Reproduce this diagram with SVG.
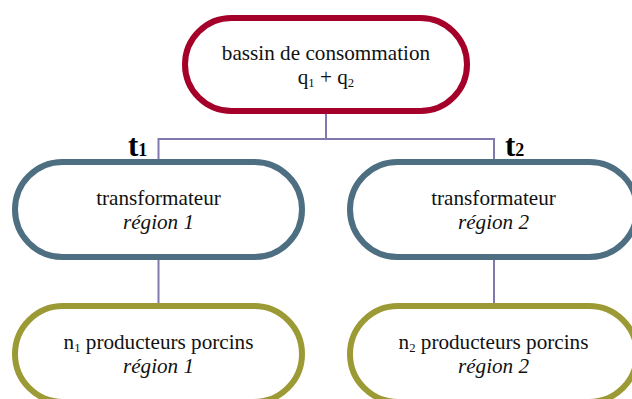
<svg xmlns="http://www.w3.org/2000/svg" width="632" height="399" viewBox="0 0 632 399">
  <style>
    .node { fill: #ffffff; stroke-width: 6; }
    .top { stroke: #A5002A; }
    .mid { stroke: #4E6E82; }
    .bot { stroke: #9C9A35; }
    .lbl { font-family: "Liberation Serif", "Times New Roman", serif; font-size: 20px; fill: #111111; text-anchor: middle; }
    .it { font-style: italic; }
    .sub { font-size: 12px; }
    .t { font-family: "Liberation Serif", "Times New Roman", serif; font-size: 31px; font-weight: bold; fill: #000000; }
    .tsub { font-size: 18px; }
    .link { fill: none; stroke: #7F79AE; stroke-width: 2; }
  </style>
  <rect width="632" height="399" fill="#ffffff"/>

  <g id="connectors">
    <path class="link" d="M326 110 V139 M158.5 139 H494 M158.5 138 V162 M494 138 V162"/>
    <path class="link" d="M158.5 258 V306"/>
    <path class="link" d="M494 258 V306"/>
  </g>

  <g id="node-bassin">
    <rect class="node top" x="185" y="18" width="282" height="93" rx="46.5" ry="46.5"/>
    <g transform="translate(326 0) scale(1.06 1)">
      <text class="lbl" x="0" y="60">bassin de consommation</text>
      <text class="lbl" x="0" y="84">q<tspan class="sub" dy="3">1</tspan><tspan dy="-3"> + q</tspan><tspan class="sub" dy="3">2</tspan></text>
    </g>
  </g>

  <g id="label-t1">
    <text class="t" x="128" y="156">t<tspan class="tsub">1</tspan></text>
  </g>
  <g id="label-t2">
    <text class="t" x="505" y="156">t<tspan class="tsub">2</tspan></text>
  </g>

  <g id="node-transformateur-1">
    <rect class="node mid" x="15" y="162" width="287" height="95" rx="47.5" ry="47.5"/>
    <g transform="translate(158.5 0) scale(1.06 1)">
      <text class="lbl" x="0" y="205">transformateur</text>
      <text class="lbl it" x="0" y="229">région 1</text>
    </g>
  </g>

  <g id="node-transformateur-2">
    <rect class="node mid" x="350" y="162" width="287" height="95" rx="47.5" ry="47.5"/>
    <g transform="translate(493.5 0) scale(1.06 1)">
      <text class="lbl" x="0" y="205">transformateur</text>
      <text class="lbl it" x="0" y="229">région 2</text>
    </g>
  </g>

  <g id="node-producteurs-1">
    <rect class="node bot" x="15" y="306" width="287" height="96" rx="48" ry="48"/>
    <g transform="translate(158.5 0) scale(1.06 1)">
      <text class="lbl" x="0" y="349">n<tspan class="sub" dy="3">1</tspan><tspan dy="-3"> producteurs porcins</tspan></text>
      <text class="lbl it" x="0" y="373">région 1</text>
    </g>
  </g>

  <g id="node-producteurs-2">
    <rect class="node bot" x="350" y="306" width="287" height="96" rx="48" ry="48"/>
    <g transform="translate(493.5 0) scale(1.06 1)">
      <text class="lbl" x="0" y="349">n<tspan class="sub" dy="3">2</tspan><tspan dy="-3"> producteurs porcins</tspan></text>
      <text class="lbl it" x="0" y="373">région 2</text>
    </g>
  </g>
</svg>
